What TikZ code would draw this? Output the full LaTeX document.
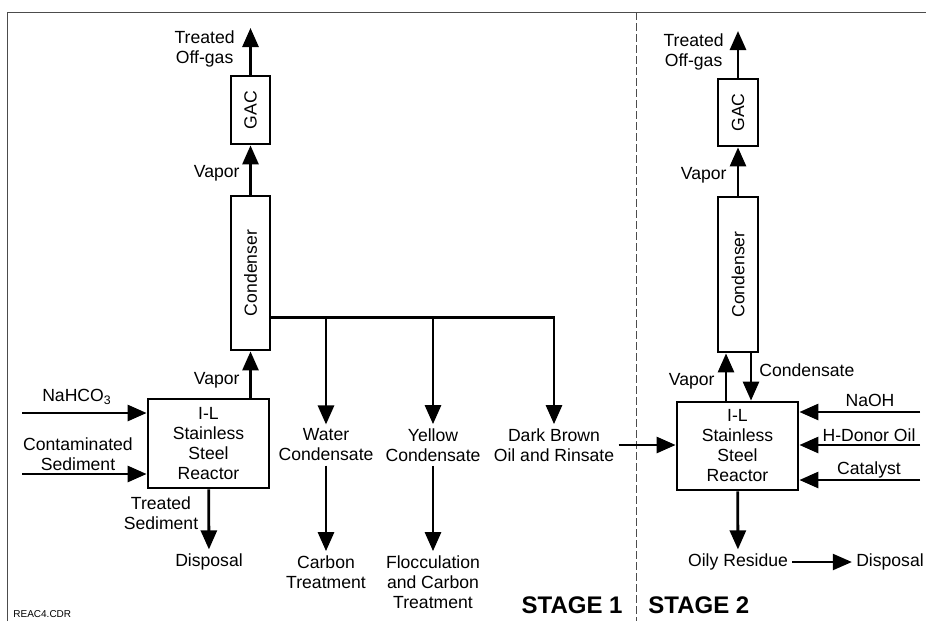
\documentclass[tikz,border=0pt]{standalone}
\usepackage{fontspec}
\setmainfont{Liberation Sans}
\usetikzlibrary{arrows.meta}

\begin{document}
\begin{tikzpicture}[->,>={Triangle[length=9.5pt,width=8pt]},x=0.5pt,y=-0.5pt,
          line width=1.4pt,font=\fontsize{8.8}{10}\selectfont,
          box node/.style={draw,rectangle,inner sep=0pt,align=center},
          text node/.style={align=center,inner sep=1.5pt}]

  \useasboundingbox (0,0) rectangle (926,621);
  \draw[-,line width=0.4pt,black!70] (7,621) -- (7,12) -- (926,12);
  \draw[-,line width=0.4pt,black!70,dash pattern=on 4pt off 1.5pt] (636,12) -- (636,621);

  % stage 1
  \node[box node,minimum width=19.5pt,minimum height=34pt] (g1) at (250.5,110) {\rotatebox{90}{GAC}};
  \node[box node,minimum width=19.5pt,minimum height=77pt] (c1) at (250.5,273) {\rotatebox{90}{Condenser}};
  \node[box node,minimum width=60.5pt,minimum height=44.5pt] (r1) at (208.5,443.5) {I-L\\Stainless\\Steel\\Reactor};
  \node[text node,anchor=east] (to1) at (239,49) {Treated\\Off-gas};
  \node[text node,anchor=east] (va1) at (244,173) {Vapor};
  \node[text node,anchor=east] (vb1) at (244,380) {Vapor};
  \node[text node] (na1) at (77,397) {NaHCO\textsubscript{3}};
  \node[text node] (cs1) at (78,454) {Contaminated\\Sediment};
  \node[text node] (ts1) at (161,513) {Treated\\Sediment};
  \node[text node] (dp1) at (209,562) {Disposal};
  \node[text node] (w1) at (326,445) {Water\\Condensate};
  \node[text node] (y1) at (433,445) {Yellow\\Condensate};
  \node[text node] (d1) at (554,445) {Dark Brown\\Oil and Rinsate};
  \node[text node] (ct1) at (326,572) {Carbon\\Treatment};
  \node[text node] (fc1) at (433,582) {Flocculation\\and Carbon\\Treatment};
  \coordinate (t1) at (250.5,28);
  \coordinate (n1) at (22,413);
  \coordinate (s1) at (22,474);
  \coordinate (sp1) at ([yshift=17pt]c1.south east);

  \path
  (c1) edge (g1)
  (g1) edge (t1)
  (r1) edge (dp1)
  (w1) edge (ct1)
  (y1) edge (fc1);
  \draw (r1.north -| c1.south) -- (c1.south);
  \draw (n1) -- (n1 -| r1.west);
  \draw (s1) -- (s1 -| r1.west);
  \draw (sp1) -| (d1.north);
  \draw (sp1 -| w1.north) -- (w1.north);
  \draw (sp1 -| y1.north) -- (y1.north);

  % stage 2
  \node[box node,minimum width=20pt,minimum height=33.5pt] (g2) at (738,112.5) {\rotatebox{90}{GAC}};
  \node[box node,minimum width=20pt,minimum height=77.5pt] (c2) at (738,274.5) {\rotatebox{90}{Condenser}};
  \node[box node,minimum width=60.5pt,minimum height=44pt] (r2) at (737.5,446) {I-L\\Stainless\\Steel\\Reactor};
  \node[text node,anchor=east] (to2) at (728,52) {Treated\\Off-gas};
  \node[text node,anchor=east] (va2) at (731,175) {Vapor};
  \node[text node,anchor=east] (vb2) at (719,381) {Vapor};
  \node[text node,anchor=west] (cd2) at (755,370) {Condensate};
  \node[text node] (no2) at (870,400) {NaOH};
  \node[text node] (hd2) at (869,435) {H-Donor Oil};
  \node[text node] (ca2) at (869,470) {Catalyst};
  \node[text node] (oi2) at (738,562) {Oily Residue};
  \node[text node] (dp2) at (890,562) {Disposal};
  \coordinate (t2) at (738,31);
  \coordinate (v2) at ([xshift=-6pt]c2.south);
  \coordinate (k2) at ([xshift=6.5pt]c2.south);
  \coordinate (n2) at (920,412);
  \coordinate (h2) at (920,445);
  \coordinate (a2) at (920,480);

  \path
  (c2) edge (g2)
  (g2) edge (t2)
  (r2) edge (oi2);
  \draw (d1) -- (d1 -| r2.west);
  \draw (v2 |- r2.north) -- (v2);
  \draw (k2) -- (k2 |- r2.north);
  \draw (n2) -- (n2 -| r2.east);
  \draw (h2) -- (h2 -| r2.east);
  \draw (a2) -- (a2 -| r2.east);
  \draw[line width=1.1pt] (oi2) -- (dp2);

  \node[font=\fontsize{12}{14}\selectfont\bfseries,anchor=east,inner sep=0pt] (st1) at (624,605) {STAGE 1};
  \node[font=\fontsize{12}{14}\selectfont\bfseries,anchor=west,inner sep=0pt] (st2) at (647,605) {STAGE 2};
  \node[font=\fontsize{5}{6}\selectfont,anchor=west,inner sep=0pt] (fn) at (12,614) {REAC4.CDR};
\end{tikzpicture}
\end{document}
